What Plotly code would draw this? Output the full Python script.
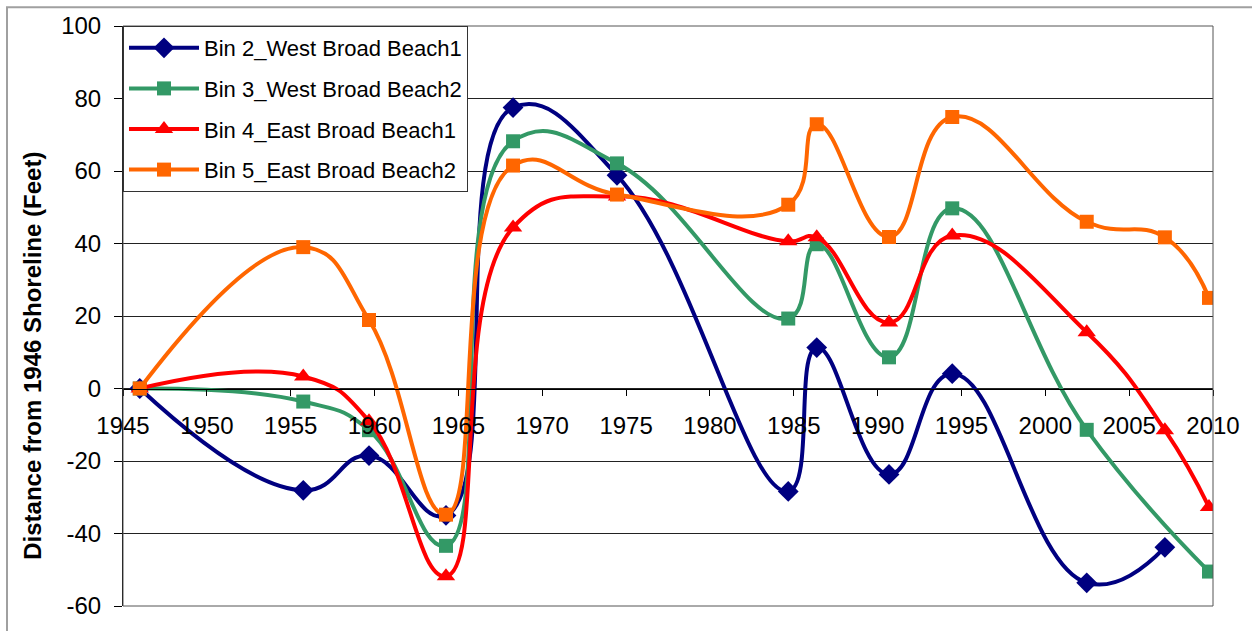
import plotly.graph_objects as go

# Survey dates (decimal years) and shoreline offsets relative to 1946 (feet)
years = [1946.0, 1955.75, 1959.67, 1964.26, 1968.26, 1974.46, 1984.67,
         1986.37, 1990.68, 1994.45, 2002.47, 2007.13, 2009.76]

bin2_west1 = [0, -28.1, -18.5, -35.0, 77.5, 58.8, -28.4, 11.3, -23.7, 4.1, -53.6, -43.8, None]
bin3_west2 = [0, -3.6, -11.5, -43.4, 68.2, 62.1, 19.3, 39.8, 8.6, 49.7, -11.4, None, -50.5]
bin4_east1 = [0, 3.3, -9.0, -51.8, 44.4, 53.0, 40.6, 41.7, 18.2, 42.2, 15.5, -11.5, -32.7]
bin5_east2 = [0, 39.0, 18.9, -34.8, 61.5, 53.5, 50.7, 72.9, 41.8, 74.9, 46.0, 41.7, 25.0]

series_names = ["Bin 2_West Broad Beach1", "Bin 3_West Broad Beach2",
                "Bin 4_East Broad Beach1", "Bin 5_East Broad Beach2"]
series_values = [bin2_west1, bin3_west2, bin4_east1, bin5_east2]
series_colors = ["#000080", "#339966", "#FF0000", "#FF6600"]
series_symbols = ["diamond", "square", "triangle-up", "square"]
symbol_sizes = [16, 14, 16, 14]

y_tickvals = [-60, -40, -20, 0, 20, 40, 60, 80, 100]
y_ticktext = ["-60", "-40", "-20", "0", "20", "40", "60", "80", "100"]

FONT = "Liberation Sans, Arial, sans-serif"

fig = go.Figure()
for name, vals, col, sym, sz in zip(series_names, series_values, series_colors,
                                    series_symbols, symbol_sizes):
    fig.add_trace(go.Scatter(
        x=years, y=vals, name=name, mode="lines+markers",
        connectgaps=True, legendgroup=name,
        line=dict(color=col, width=4, shape="spline", smoothing=1.3),
        marker=dict(color=col, symbol=sym, size=sz, line=dict(width=0)),
    ))

L, R, T, B = 123, 39, 25, 15
W, H = 1252, 631
pw, ph = W - L - R, H - T - B

fig.update_layout(
    width=W, height=H,
    margin=dict(l=L, r=R, t=T, b=B),
    paper_bgcolor="white", plot_bgcolor="white",
    font=dict(family=FONT, color="black"),
    showlegend=True,
    legend=dict(
        x=0, y=1, xanchor="left", yanchor="top",
        bgcolor="white", bordercolor="#333333", borderwidth=1,
        font=dict(size=22, family=FONT, color="black"),
        itemwidth=70, tracegroupgap=9,
    ),
    xaxis=dict(
        range=[1945, 2010], tick0=1945, dtick=5,
        anchor="free", position=0.375,
        showgrid=False, zeroline=False,
        showline=True, linecolor="black", linewidth=1,
        ticks="outside", ticklen=6, tickcolor="black",
        tickfont=dict(size=24, family=FONT, color="black"),
        ticklabelstandoff=10,
    ),
    yaxis=dict(
        range=[-60, 100], tickvals=y_tickvals, ticktext=y_ticktext,
        showgrid=True, gridcolor="#222222", gridwidth=1,
        zeroline=False,
        showline=True, linecolor="black", linewidth=1,
        ticks="outside", ticklen=8, tickcolor="black",
        tickfont=dict(size=24, family=FONT, color="black"),
        ticklabelstandoff=8,
    ),
)

# Plot-area frame
fig.add_shape(type="rect", xref="paper", yref="paper", x0=0, x1=1, y0=0, y1=1,
              line=dict(color="#555555", width=1), layer="above")
# Chart-area border
fig.add_shape(type="rect", xref="paper", yref="paper",
              x0=(7 - L) / pw, x1=(W + 20 - L) / pw,
              y0=-(B + 20) / ph, y1=1 + (T - 6) / ph,
              line=dict(color="#A0A0A0", width=2), layer="above")

# Y-axis title
fig.add_annotation(
    text="<b>Distance from 1946 Shoreline (Feet)</b>",
    xref="paper", yref="paper", x=(33 - L) / pw, y=(H - B - 361) / ph,
    xanchor="center", yanchor="middle", textangle=-90, showarrow=False,
    font=dict(size=24, family=FONT, color="black"),
)

fig.write_html("out.html")
